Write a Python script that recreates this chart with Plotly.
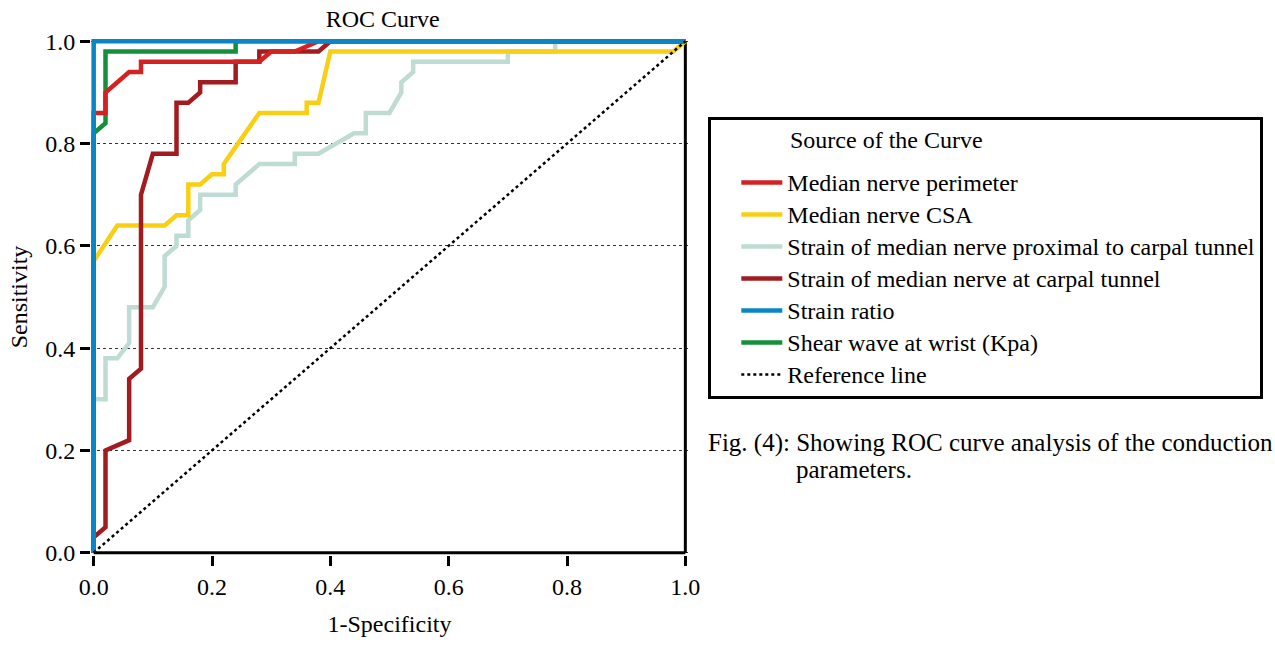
import plotly.graph_objects as go

# ---------------- data ----------------
perim_x = [0, 0, 0.02, 0.02, 0.06, 0.08, 0.08, 0.28, 0.30, 0.34, 0.38, 1.0]
perim_y = [0, 0.86, 0.86, 0.90, 0.94, 0.94, 0.96, 0.96, 0.98, 0.98, 1.0, 1.0]

csa_x = [0, 0, 0.04, 0.12, 0.14, 0.16, 0.16, 0.18, 0.20, 0.22, 0.22, 0.28, 0.36, 0.36, 0.38, 0.40, 0.98, 1.0]
csa_y = [0, 0.57, 0.64, 0.64, 0.66, 0.66, 0.72, 0.72, 0.74, 0.74, 0.76, 0.86, 0.86, 0.88, 0.88, 0.98, 0.98, 1.0]

prox_x = [0, 0, 0.02, 0.02, 0.04, 0.06, 0.06, 0.10, 0.12, 0.12, 0.14, 0.14, 0.16, 0.16, 0.18, 0.18,
          0.24, 0.24, 0.28, 0.34, 0.34, 0.38, 0.44, 0.46, 0.46, 0.50, 0.52, 0.52, 0.54, 0.54,
          0.70, 0.70, 0.78, 0.78, 1.0]
prox_y = [0, 0.30, 0.30, 0.38, 0.38, 0.41, 0.48, 0.48, 0.52, 0.58, 0.60, 0.62, 0.62, 0.65, 0.67, 0.70,
          0.70, 0.72, 0.76, 0.76, 0.78, 0.78, 0.82, 0.82, 0.86, 0.86, 0.90, 0.92, 0.94, 0.96,
          0.96, 0.98, 0.98, 1.0, 1.0]

tunnel_x = [0, 0, 0.02, 0.02, 0.06, 0.06, 0.08, 0.08, 0.10, 0.14, 0.14, 0.16, 0.18, 0.18, 0.24, 0.24,
            0.28, 0.28, 0.38, 0.40, 1.0]
tunnel_y = [0, 0.03, 0.05, 0.20, 0.22, 0.34, 0.36, 0.70, 0.78, 0.78, 0.88, 0.88, 0.90, 0.92, 0.92, 0.96,
            0.96, 0.98, 0.98, 1.0, 1.0]

ratio_x = [0, 0, 1.0]
ratio_y = [0, 1.0, 1.0]

shear_x = [0, 0, 0.02, 0.02, 0.24, 0.24, 1.0]
shear_y = [0, 0.82, 0.84, 0.98, 0.98, 1.0, 1.0]

ref_x = [0, 1.0]
ref_y = [0, 1.0]

tick_vals = [0, 0.2, 0.4, 0.6, 0.8, 1.0]
tick_text = ["0.0", "0.2", "0.4", "0.6", "0.8", "1.0"]

# ---------------- layout geometry ----------------
W, H = 1275, 645
X0, X1 = 93.5, 686.0
Y1, Y0 = 41.5, 557.5
PAD = 0.0045
L = X0 - PAD * (X1 - X0)
R = X1 + PAD * (X1 - X0)
T = Y1 - PAD * (Y0 - Y1)
B = Y0 + PAD * (Y0 - Y1)


def px(xp):
    return (xp - L) / (R - L)


def py(yp):
    return (B - yp) / (B - T)


FONT = "Liberation Serif"
LW = 4.5


def big(s):
    return '<span style="font-size:24px">' + s + '</span>'


fig = go.Figure()

# drawing order (bottom -> top); legend order via legendrank
traces = [
    ("Strain of median nerve proximal to carpal tunnel", prox_x, prox_y, "#bedcd4", 3),
    ("Median nerve CSA", csa_x, csa_y, "#f8cf12", 2),
    ("Strain of median nerve at carpal tunnel", tunnel_x, tunnel_y, "#a11b1f", 4),
    ("Shear wave at wrist (Kpa)", shear_x, shear_y, "#15903a", 6),
    ("Median nerve perimeter", perim_x, perim_y, "#d42222", 1),
    ("Strain ratio", ratio_x, ratio_y, "#0a86c8", 5),
]
for name, xs, ys, col, rank in traces:
    fig.add_trace(go.Scatter(x=xs, y=ys, mode="lines", name=big(name),
                             line=dict(color=col, width=LW),
                             legendrank=rank, legendgroup=name))
fig.add_trace(go.Scatter(x=ref_x, y=ref_y, mode="lines", name=big("Reference line"),
                         line=dict(color="black", width=2.5, dash="dot"),
                         legendrank=7, legendgroup="ref"))

# frame
for (xa, ya, xb, yb) in [(0, 0, 1, 0), (1, 0, 1, 1), (0, 1, 1, 1), (0, 0, 0, 1)]:
    fig.add_shape(type="line", xref="x", yref="y", x0=xa, y0=ya, x1=xb, y1=yb,
                  line=dict(color="black", width=3), layer="between")

axis_common = dict(
    range=[-PAD, 1 + PAD], tickmode="array", tickvals=tick_vals, ticktext=tick_text,
    ticks="outside", ticklen=10, tickwidth=2.5, tickcolor="black",
    tickfont=dict(family=FONT, size=24, color="black"),
    zeroline=False, showline=False, fixedrange=True,
)

fig.update_layout(
    width=W, height=H, autosize=False,
    margin=dict(l=L, r=W - R, t=T, b=H - B, pad=0),
    paper_bgcolor="white", plot_bgcolor="white",
    font=dict(family=FONT, size=24, color="black"),
    title=dict(text="ROC Curve", x=px(383), xref="paper", xanchor="center",
               y=1 - 19 / H, yref="container", yanchor="middle",
               font=dict(family=FONT, size=24, color="black")),
    xaxis=dict(**axis_common, showgrid=False,
               title=dict(text="1-Specificity", font=dict(family=FONT, size=24), standoff=16)),
    yaxis=dict(**axis_common, showgrid=True, gridcolor="#333333", gridwidth=1, griddash="3px,3px",
               title=dict(text="Sensitivity", font=dict(family=FONT, size=24), standoff=10)),
    legend=dict(
        x=px(709), y=py(118), xanchor="left", yanchor="top",
        bordercolor="black", borderwidth=3, bgcolor="white",
        font=dict(family=FONT, size=22.3, color="black"),
        title=dict(text="\u00a0", font=dict(family=FONT, size=31.8)),
        itemwidth=41, indentation=25, traceorder="grouped", tracegroupgap=0,
    ),
    showlegend=True,
)

fig.add_annotation(text="Source of the Curve", xref="paper", yref="paper",
                   x=px(789), y=py(141), xanchor="left", yanchor="middle", showarrow=False,
                   font=dict(family=FONT, size=24, color="black"))
fig.add_annotation(text="Fig. (4): Showing ROC curve analysis of the conduction",
                   xref="paper", yref="paper", x=px(707), y=py(447),
                   xanchor="left", yanchor="middle", showarrow=False,
                   font=dict(family=FONT, size=25, color="black"))
fig.add_annotation(text="parameters.",
                   xref="paper", yref="paper", x=px(795), y=py(474),
                   xanchor="left", yanchor="middle", showarrow=False,
                   font=dict(family=FONT, size=25, color="black"))

fig.write_html("out.html")
